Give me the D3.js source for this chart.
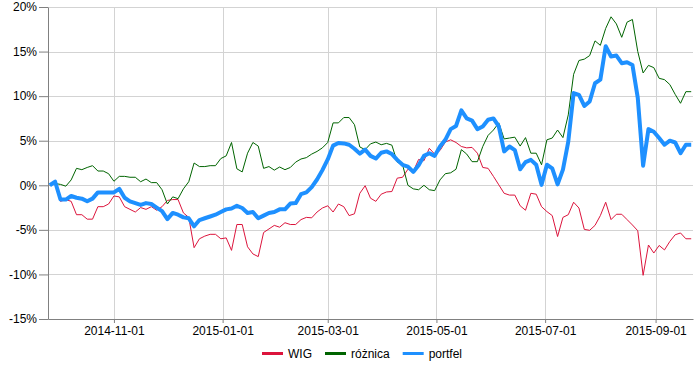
<!DOCTYPE html>
<html>
<head>
<meta charset="utf-8">
<script src="https://cdn.jsdelivr.net/npm/d3@7"></script>
<style>
	body { margin: 0; background: #fff; }
	svg { display: block; font-family: 'Liberation Sans', Arial, sans-serif; font-size: 12px; }
</style>
</head>
<body>
<div id="chart"></div>
<script>
// one sample every STEP_DAYS days, starting at START_DATE
var START_DATE = '2014-09-26';
var STEP_DAYS = 3;
var X_DOMAIN = ['2014-09-25', '2015-09-22'];
var X_TICKS = ['2014-11-01', '2015-01-01', '2015-03-01', '2015-05-01', '2015-07-01', '2015-09-01'];
var Y_TICKS = [-15, -10, -5, 0, 5, 10, 15, 20];
var SERIES_NAMES = ['WIG', 'różnica', 'portfel'];

var wig = [
	0, 0.4, -1.8, -1.6, -1.8, -3.3, -3.3, -3.8, -3.8, -2.4, -2.4, -2.1, -1.2, -1.3, -2.4, -2.7, -3.0, -2.5, -2.7, -2.4,
	-2.8, -2.4, -1.7, -1.6, -1.6, -3.1, -3.6, -7.0, -6.0, -5.7, -5.5, -5.5, -6.0, -5.9, -7.3,
	-4.4, -4.4, -6.9, -7.7, -8.0, -5.3, -4.9, -4.5, -4.7, -4.2, -4.4, -4.4, -3.85, -3.6, -3.65, -3.0, -2.55, -2.3, -3.0, -2.1,
	-2.4, -3.4, -3.2, -0.9, -0.05, -1.45, -1.8, -1.0, -0.75, -0.7, 0.8, 0.9, 1.8, 1.55, 2.9, 2.75, 4.15, 3.5, 3.9, 4.85,
	5.1, 4.8, 4.35, 4.2, 4.25, 3.6, 2.0, 1.9, 1.0, 0.05, -0.9, -1.1, -1.1, -2.3, -2.8, -0.9, -1.0, -2.4, -2.95, -3.4,
	-5.75, -3.6, -3.3, -1.9, -2.55, -4.95, -5.05, -4.5, -3.4, -1.9, -3.85, -3.25, -3.25, -3.85, -4.45, -5.1, -10.1, -6.7, -7.6, -6.75,
	-7.25, -6.3, -5.55, -5.35, -6.0, -6.0
];

var roznica = [
	0, 0.2, 0.1, -0.1, 0.6, 1.9, 1.75, 2.0, 2.2, 1.6, 1.6, 1.3, 0.45, 1.0, 1.0, 0.9, 0.9, 0.4, 0.7, 0.3,
	0.3, -0.5, -2.1, -1.3, -1.5, -0.4, 0.4, 2.5, 2.1, 2.1, 2.2, 2.2, 3.0, 3.3, 4.8,
	1.85, 1.5, 3.6, 4.8, 4.4, 1.9, 2.1, 1.7, 2.05, 1.75, 2.0, 2.6, 2.95, 3.1, 3.5, 3.8, 4.2, 4.8, 7.0, 7.0,
	7.6, 7.6, 6.8, 4.3, 4.0, 4.65, 4.85, 4.55, 4.7, 4.5, 2.6, 2.3, 0.0, -0.4, -0.5, 0.0, -0.5, -0.6, 0.6, 1.3,
	1.4, 1.8, 4.0, 3.5, 2.65, 2.65, 4.35, 5.6, 6.2, 7.0, 5.2, 5.3, 5.4, 4.4, 5.35, 3.6, 3.6, 2.3, 5.1, 5.3,
	6.2, 5.35, 7.9, 12.45, 14.0, 14.15, 14.55, 16.2, 15.7, 17.6, 18.9, 18.1, 16.6, 18.3, 18.6, 15.0, 12.6, 13.45, 13.2, 12.0,
	11.85, 11.3, 10.2, 9.2, 10.5, 10.5
];

var portfel = [
	0, 0.4, -1.6, -1.6, -1.2, -1.4, -1.5, -1.8, -1.5, -0.8, -0.8, -0.8, -0.8, -0.4, -1.4, -1.8, -2.0, -2.2, -2.0, -2.1,
	-2.5, -2.9, -3.8, -3.1, -3.3, -3.6, -3.7, -4.6, -3.9, -3.7, -3.5, -3.3, -3.0, -2.7, -2.6,
	-2.3, -2.55, -3.1, -3.0, -3.7, -3.4, -3.1, -3.0, -2.7, -2.7, -2.05, -2.0, -1.0, -0.8, -0.2, 0.65, 1.7, 2.9, 4.45, 4.75,
	4.7, 4.55, 4.1, 3.55, 4.0, 3.3, 3.0, 3.65, 3.8, 3.5, 2.85, 2.3, 2.1, 1.5, 2.25, 3.3, 3.6, 3.3, 4.35, 5.1,
	6.3, 6.65, 8.4, 7.5, 7.25, 6.3, 6.6, 7.35, 7.5, 6.6, 3.8, 4.35, 3.95, 1.8, 2.6, 2.85, 2.3, 0.05, 2.3, 1.9,
	0.1, 1.75, 4.9, 10.35, 10.15, 8.9, 9.4, 11.45, 11.85, 15.6, 14.45, 14.55, 13.7, 13.8, 13.5, 9.8, 2.2, 6.3, 6.0, 5.3,
	4.55, 5.0, 4.8, 3.6, 4.55, 4.55
];

var COLORS = ['crimson', 'darkgreen', 'dodgerblue'];
var WIDTHS = [1, 1, 4];

(function () {
	drawLineChart('chart');
})();

function drawLineChart(elementId) {
	var parseDate = d3.timeParse('%Y-%m-%d'),
		start = parseDate(START_DATE),
		width = 700,
		height = 370,
		margin = { top: 7, right: 7, bottom: 51, left: 48 },

		svg = d3.select('#' + elementId).append('svg')
			.attr('width', width)
			.attr('height', height),

		x = d3.scaleTime()
			.domain(X_DOMAIN.map(parseDate))
			.range([margin.left, width - margin.right]),

		y = d3.scaleLinear()
			.domain([d3.min(Y_TICKS), d3.max(Y_TICKS)])
			.range([height - margin.bottom, margin.top]),

		line = d3.line()
			.x(function (d) { return x(d.date); })
			.y(function (d) { return y(d.value); });

	var series = [wig, roznica, portfel].map(function (values, k) {
		return {
			name: SERIES_NAMES[k],
			color: COLORS[k],
			width: WIDTHS[k],
			values: values.map(function (v, i) {
				return { date: d3.timeDay.offset(start, i * STEP_DAYS), value: v };
			})
		};
	});

	// grid
	var grid = svg.append('g')
		.attr('stroke', '#d3d3d3')
		.attr('stroke-width', 1);

	grid.selectAll('.hgrid')
		.data(Y_TICKS)
		.enter().append('line')
		.attr('x1', margin.left)
		.attr('x2', width - margin.right)
		.attr('y1', function (d) { return Math.round(y(d)) + 0.5; })
		.attr('y2', function (d) { return Math.round(y(d)) + 0.5; });

	grid.selectAll('.vgrid')
		.data(X_TICKS.map(parseDate))
		.enter().append('line')
		.attr('x1', function (d) { return Math.round(x(d)) + 0.5; })
		.attr('x2', function (d) { return Math.round(x(d)) + 0.5; })
		.attr('y1', margin.top)
		.attr('y2', height - margin.bottom);

	// axes
	var yAxis = d3.axisLeft(y)
		.tickValues(Y_TICKS)
		.tickSize(9)
		.tickSizeOuter(0)
		.tickPadding(2)
		.tickFormat(function (d) { return d + '%'; });

	var xAxis = d3.axisBottom(x)
		.tickValues(X_TICKS.map(parseDate))
		.tickSize(4)
		.tickSizeOuter(0)
		.tickPadding(3)
		.tickFormat(d3.timeFormat('%Y-%m-%d'));

	var gy = svg.append('g')
		.attr('transform', 'translate(' + margin.left + ',0)')
		.call(yAxis);

	var gx = svg.append('g')
		.attr('transform', 'translate(0,' + (height - margin.bottom) + ')')
		.call(xAxis);

	[gx, gy].forEach(function (g) {
		g.select('.domain').attr('stroke', '#808080');
		g.selectAll('.tick line').attr('stroke', '#808080');
		g.selectAll('.tick text')
			.attr('fill', '#000')
			.style('font-family', "'Liberation Sans', Arial, sans-serif")
			.style('font-size', '12px');
	});

	// lines
	svg.append('g')
		.selectAll('path')
		.data(series)
		.enter().append('path')
		.attr('fill', 'none')
		.attr('stroke', function (d) { return d.color; })
		.attr('stroke-width', function (d) { return d.width; })
		.attr('stroke-linejoin', 'round')
		.attr('d', function (d) { return line(d.values); });

	// legend
	var legend = svg.append('g')
		.attr('transform', 'translate(262,353)'),
		cursor = 0;

	series.forEach(function (s) {
		var item = legend.append('g')
			.attr('transform', 'translate(' + cursor + ',0)');

		item.append('line')
			.attr('x1', 0)
			.attr('x2', 21)
			.attr('y1', 0.5)
			.attr('y2', 0.5)
			.attr('stroke', s.color)
			.attr('stroke-width', 3);

		var label = item.append('text')
			.attr('x', 26)
			.attr('y', 4.5)
			.attr('fill', '#000')
			.text(s.name);

		cursor += 26 + label.node().getComputedTextLength() + 13;
	});
}
</script>
</body>
</html>
